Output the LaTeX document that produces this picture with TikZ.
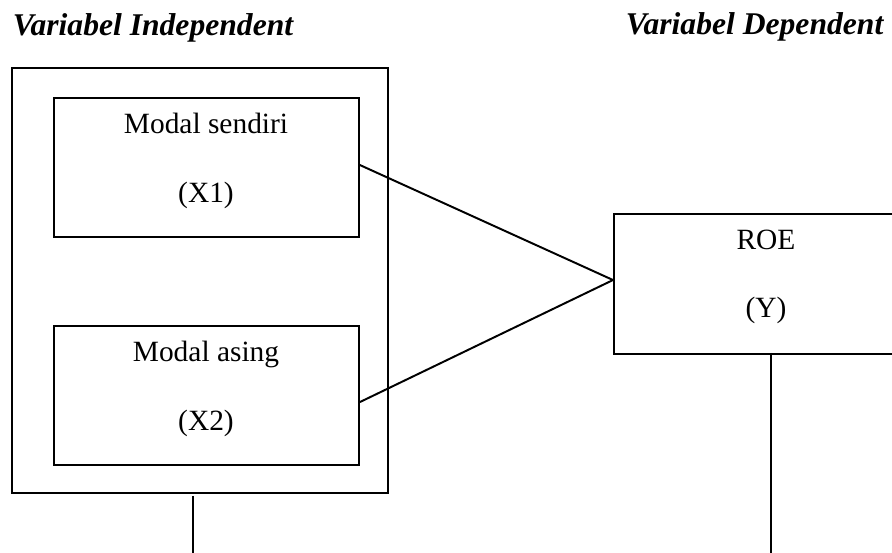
\documentclass[tikz,border=0pt]{standalone}
\usepackage{fontspec}
\setmainfont{Liberation Serif}

\tikzset{every picture/.style={line width=0.8pt}}
\tikzset{kotak/.style={draw, rectangle, inner sep=0pt, anchor=north west},
  isi/.style={anchor=base, inner sep=0pt, font=\fontsize{12}{14}\selectfont},
  judul/.style={anchor=base west, inner sep=0pt, font=\fontsize{12.9}{15}\selectfont\bfseries\itshape}}

\begin{document}
\begin{tikzpicture}[x=0.408pt,y=0.408pt,yscale=-1,xscale=1]
\useasboundingbox (0,0) rectangle (892,553);
\clip (0,0) rectangle (892,553);

%Shape: Rectangle [id:outer]
\node [kotak, minimum width=153.4pt, minimum height=173.4pt] (luar) at (11,67) {};
%Shape: Rectangle [id:x1]
\node [kotak, minimum width=124.4pt, minimum height=56.7pt] (modalx1) at (53,97) {};
%Shape: Rectangle [id:x2]
\node [kotak, minimum width=124.4pt, minimum height=56.7pt] (modalx2) at (53,325) {};
%Shape: Rectangle [id:y]
\node [kotak, minimum width=124.4pt, minimum height=57.1pt] (roe) at (613,213) {};

% Text Node
\node [judul] (indep) at (12,36) {Variabel Independent};
% Text Node
\node [judul] (dep) at (625,35) {Variabel Dependent};
% Text Node
\node [isi] (t1) at (206,134) {Modal sendiri};
% Text Node
\node [isi] (t2) at (206,203) {(X1)};
% Text Node
\node [isi] (t3) at (206,362) {Modal asing};
% Text Node
\node [isi] (t4) at (206,431) {(X2)};
% Text Node
\node [isi] (t5) at (766,250) {ROE};
% Text Node
\node [isi] (t6) at (766,318) {(Y)};

\coordinate (kiri1) at (193,496);
\coordinate (kiri2) at (193,553);
\coordinate (kanan1) at (771,353);
\coordinate (kanan2) at (771,553);

%Straight Lines
\draw ([yshift=-1pt]modalx1.east) -- ([yshift=-1.6pt]roe.west);
%Straight Lines
\draw ([yshift=2.7pt]modalx2.east) -- ([yshift=-1.6pt]roe.west);
%Straight Lines
\draw (kiri1) -- (kiri2);
%Straight Lines
\draw (kanan1) -- (kanan2);
\end{tikzpicture}
\end{document}
